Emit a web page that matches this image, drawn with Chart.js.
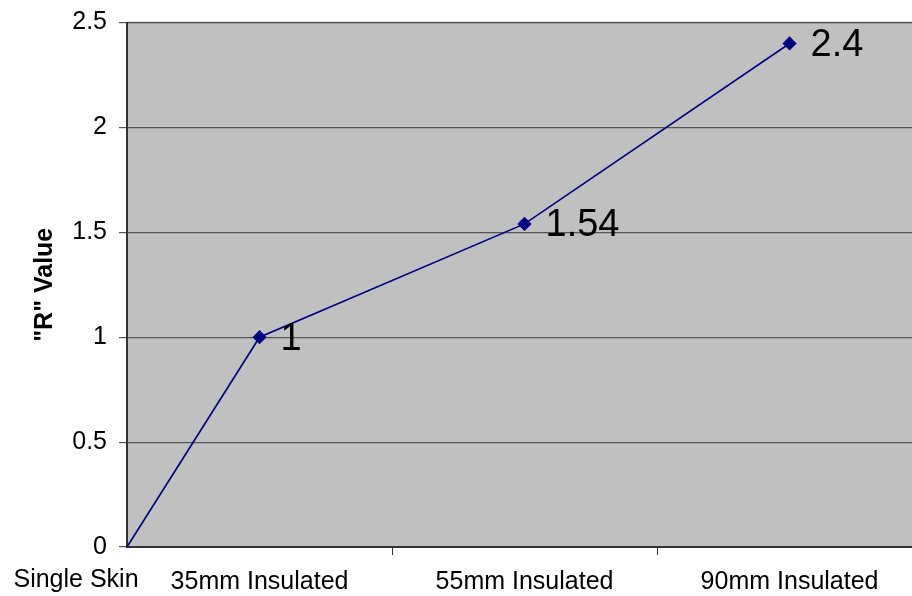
<!DOCTYPE html>
<html>
<head>
<meta charset="utf-8">
<script src="https://cdn.jsdelivr.net/npm/chart.js@4/dist/chart.umd.min.js"></script>
<style>
  html, body { margin: 0; padding: 0; background: #fff; }
  #wrap { width: 912px; height: 596px; position: relative; }
</style>
</head>
<body>
<div id="wrap"><canvas id="chartR"></canvas></div>
<script>
// data
const categories = ["Single Skin", "35mm Insulated", "55mm Insulated", "90mm Insulated"];
const xSlots = [0, 0.5, 1.5, 2.5];
const rValues = [0, 1, 1.54, 2.4];
const yTicks = [0, 0.5, 1, 1.5, 2, 2.5];

const FONT = "Arial, 'Liberation Sans', sans-serif";

const plotBg = {
  id: "plotBg",
  beforeDraw(chart) {
    const { ctx, chartArea: a } = chart;
    ctx.save();
    ctx.fillStyle = "#c0c0c0";
    ctx.fillRect(a.left, a.top, a.right - a.left, a.bottom - a.top);
    ctx.strokeStyle = "#808080";
    ctx.lineWidth = 1.5;
    ctx.beginPath();
    ctx.moveTo(a.left, a.top);
    ctx.lineTo(a.right, a.top);
    ctx.stroke();
    ctx.restore();
  }
};

const valueLabels = {
  id: "valueLabels",
  afterDatasetsDraw(chart) {
    const { ctx } = chart;
    const meta = chart.getDatasetMeta(0);
    ctx.save();
    ctx.font = "38px " + FONT;
    ctx.fillStyle = "#000";
    ctx.textAlign = "left";
    ctx.textBaseline = "middle";
    meta.data.forEach((pt, i) => {
      if (i === 0) return;
      ctx.fillText(String(rValues[i]), pt.x + 21, pt.y + 2);
    });
    // the first category label sits left of the axis
    const xs = chart.scales.x;
    ctx.font = "25px " + FONT;
    ctx.textAlign = "center";
    ctx.fillText(categories[0], xs.left - 51, 580);
    ctx.restore();
  }
};

new Chart(document.getElementById("chartR"), {
  type: "line",
  data: {
    datasets: [{
      label: '"R" Value',
      data: rValues.map((v, i) => ({ x: xSlots[i], y: v })),
      borderColor: "#000080",
      backgroundColor: "#000080",
      borderWidth: 1.6,
      pointStyle: "rectRot",
      pointRadius: c => c.dataIndex === 0 ? 0 : 6,
      pointHoverRadius: 6,
      tension: 0,
      clip: false
    }]
  },
  options: {
    responsive: true,
    maintainAspectRatio: false,
    animation: false,
    layout: { autoPadding: false, padding: { top: 22.5, right: 0, left: 0, bottom: 0 } },
    plugins: { legend: { display: false }, tooltip: { enabled: false } },
    scales: {
      x: {
        type: "linear",
        min: 0,
        max: 2.962,   // the plot runs on past the right edge of the picture
        afterBuildTicks: s => {
          const t = [];
          for (let v = 0; v <= 2.5; v += 0.5) t.push({ value: v });
          s.ticks = t;
        },
        afterFit: s => { s.height = 49; s.paddingRight = 0; s.paddingLeft = 0; },
        border: { display: true, color: "#333", width: 2 },
        grid: {
          drawOnChartArea: false,
          tickLength: 8,
          color: c => (c.tick && Number.isInteger(c.tick.value) && c.tick.value > 0) ? "#333" : "rgba(0,0,0,0)"
        },
        ticks: {
          autoSkip: false,
          maxRotation: 0,
          padding: 12,
          color: "#000",
          font: { family: FONT, size: 25 },
          callback: v => {
            const i = xSlots.indexOf(v);
            return i > 0 ? categories[i] : "";
          }
        }
      },
      y: {
        min: 0,
        max: 2.5,
        afterBuildTicks: s => { s.ticks = yTicks.map(v => ({ value: v })); },
        afterFit: s => { s.width = 127; s.paddingTop = 0; s.paddingBottom = 0; },
        border: { display: true, color: "#333", width: 2 },
        grid: { color: "#555", lineWidth: 1.2, tickLength: 8 },
        ticks: {
          padding: 12,
          color: "#000",
          font: { family: FONT, size: 25 },
          callback: v => String(v)
        },
        title: {
          display: true,
          text: '"R" Value',
          color: "#000",
          font: { family: FONT, size: 25, weight: "bold" },
          padding: { top: 30, bottom: 0 }
        }
      }
    }
  },
  plugins: [plotBg, valueLabels]
});
</script>
</body>
</html>
